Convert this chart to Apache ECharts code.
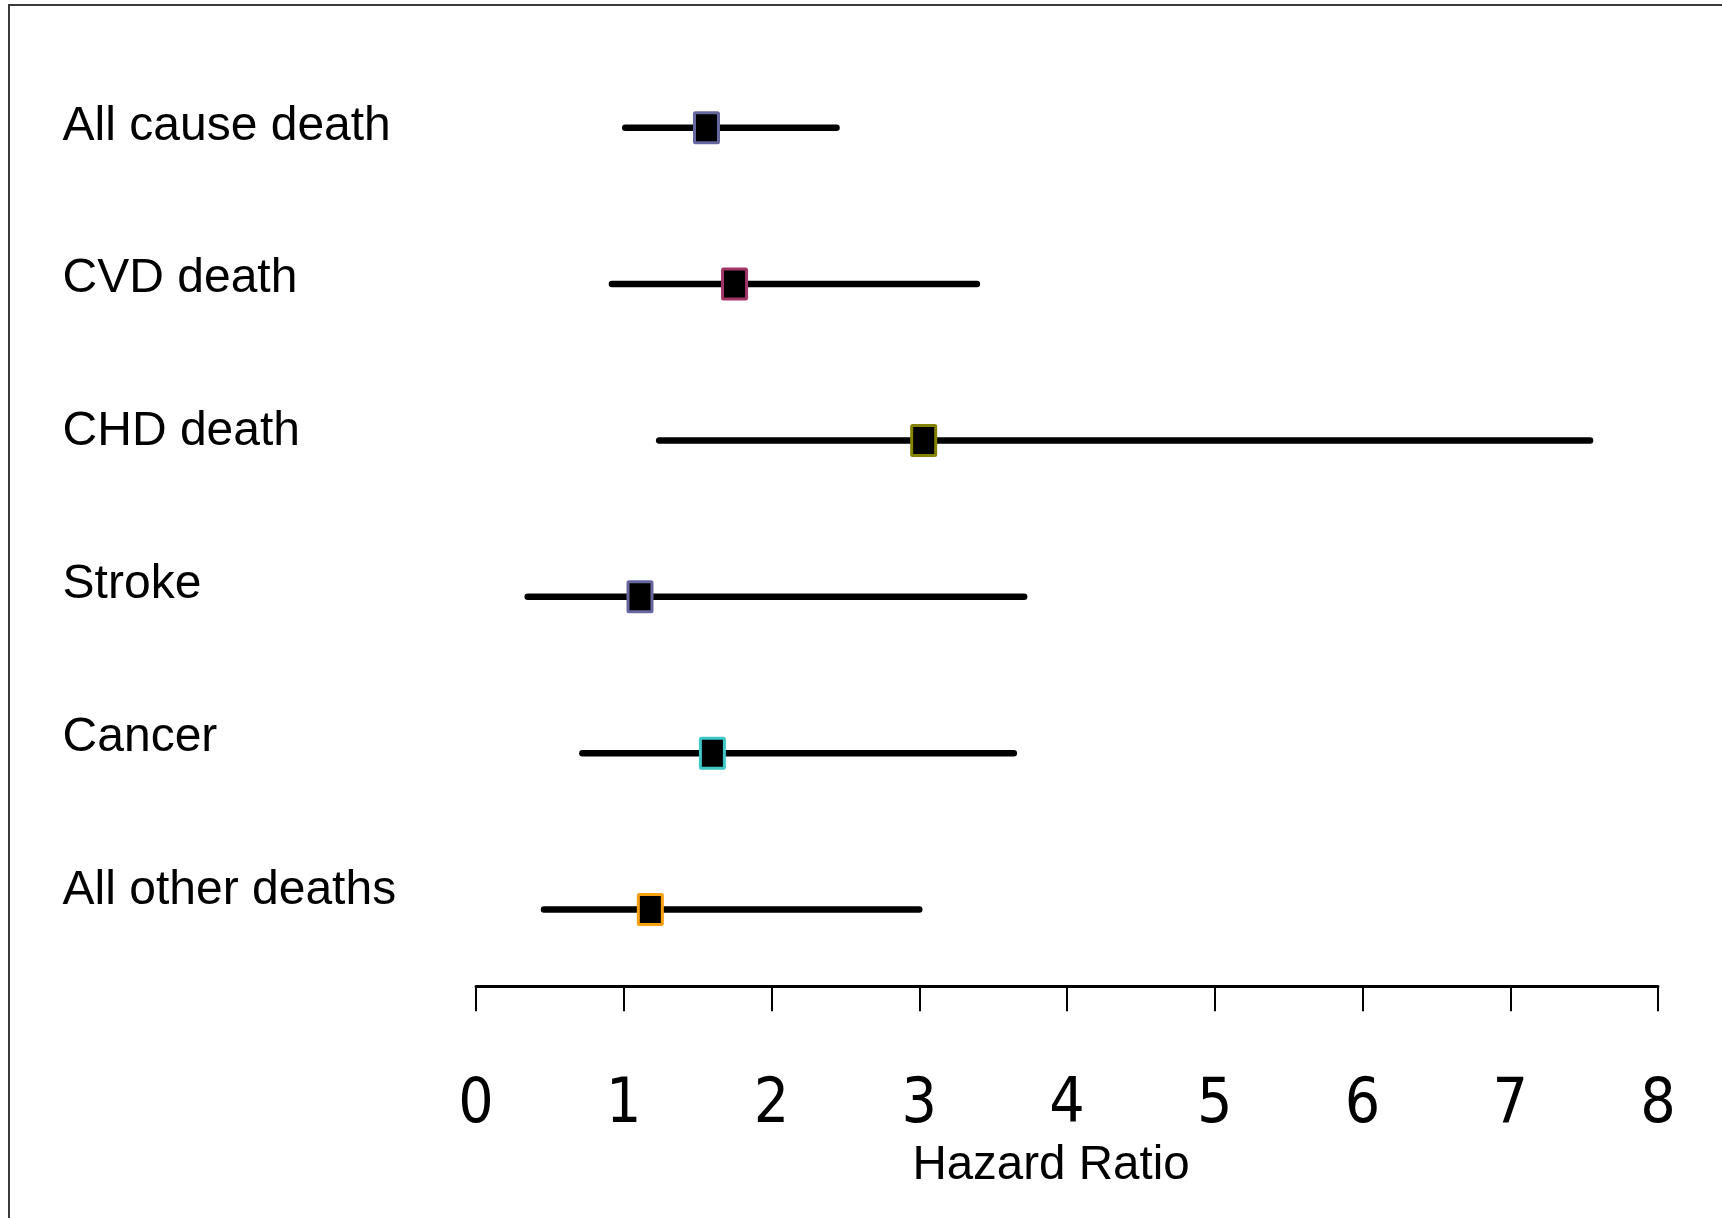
<!DOCTYPE html>
<html>
<head>
<meta charset="utf-8">
<script src="https://cdn.jsdelivr.net/npm/echarts@6/dist/echarts.min.js"></script>
<style>
html,body{margin:0;padding:0;background:#fff;}
#chart{width:1722px;height:1218px;}
</style>
</head>
<body>
<div id="chart"></div>
<script>
// Data
var categories = ["All cause death", "CVD death", "CHD death", "Stroke", "Cancer", "All other deaths"];
var lower      = [1.01, 0.92, 1.24, 0.35, 0.72, 0.46];
var estimate   = [1.56, 1.75, 3.03, 1.11, 1.60, 1.18];
var upper      = [2.44, 3.39, 7.54, 3.71, 3.64, 3.00];
var borderColors = ["#67679f", "#a33566", "#838300", "#67679f", "#3fc8c8", "#f7a012"];
var xTicks = [0, 1, 2, 3, 4, 5, 6, 7, 8];

var seriesData = categories.map(function (c, i) {
  return [lower[i], estimate[i], upper[i], i];
});

var chart = echarts.init(document.getElementById('chart'), null, {renderer: 'canvas'});

var option = {
  backgroundColor: '#ffffff',
  animation: false,
  grid: [
    {left: 476, right: 64, top: 49.5, bottom: 230.3},
    {left: 62.6, width: 380, top: 50, bottom: 251}
  ],
  xAxis: [
    {
      gridIndex: 0,
      type: 'value',
      min: xTicks[0],
      max: xTicks[xTicks.length - 1],
      interval: 1,
      offset: -1.5,
      axisLine: {show: true, onZero: false, lineStyle: {color: '#000', width: 3}},
      axisTick: {show: true, inside: false, length: 25, lineStyle: {color: '#000', width: 2}},
      splitLine: {show: false},
      axisLabel: {
        show: true,
        margin: 120,
        verticalAlign: 'middle',
        fontFamily: '"DejaVu Sans Condensed", "DejaVu Sans", sans-serif',
        fontSize: 62,
        color: '#000'
      },
      name: 'Hazard Ratio',
      nameLocation: 'middle',
      nameGap: 180,
      nameTextStyle: {
        fontFamily: '"Liberation Sans", Arial, sans-serif',
        fontSize: 47.5,
        color: '#000',
        verticalAlign: 'middle',
        padding: [0, 32, 0, 0]
      }
    },
    {gridIndex: 1, type: 'value', show: false, min: 0, max: 1}
  ],
  yAxis: [
    {gridIndex: 0, type: 'category', data: categories, inverse: true, show: false},
    {
      gridIndex: 1,
      type: 'category',
      data: categories,
      inverse: true,
      axisLine: {show: false},
      axisTick: {show: false},
      splitLine: {show: false},
      axisLabel: {
        show: true,
        align: 'left',
        margin: 0,
        verticalAlign: 'middle',
        fontFamily: '"Liberation Sans", Arial, sans-serif',
        fontSize: 48,
        color: '#000'
      }
    }
  ],
  graphic: [
    {
      type: 'polyline',
      shape: {points: [[9, 1218], [9, 5], [1722, 5]]},
      style: {stroke: '#3a3a3a', lineWidth: 2, fill: null},
      silent: true
    }
  ],
  series: [
    {
      type: 'custom',
      xAxisIndex: 0,
      yAxisIndex: 0,
      data: seriesData,
      encode: {x: [0, 1, 2], y: 3},
      renderItem: function (params, api) {
        var idx = api.value(3);
        var lo = api.coord([api.value(0), idx]);
        var est = api.coord([api.value(1), idx]);
        var hi = api.coord([api.value(2), idx]);
        var w = 24, h = 30;
        return {
          type: 'group',
          children: [
            {
              type: 'line',
              shape: {x1: lo[0], y1: lo[1], x2: hi[0], y2: hi[1]},
              style: {stroke: '#000', lineWidth: 6.5, lineCap: 'round'}
            },
            {
              type: 'rect',
              shape: {x: est[0] - w / 2, y: est[1] - h / 2, width: w, height: h, r: 1},
              style: {fill: '#000', stroke: borderColors[params.dataIndex], lineWidth: 3}
            }
          ]
        };
      }
    }
  ]
};

chart.setOption(option);
</script>
</body>
</html>
